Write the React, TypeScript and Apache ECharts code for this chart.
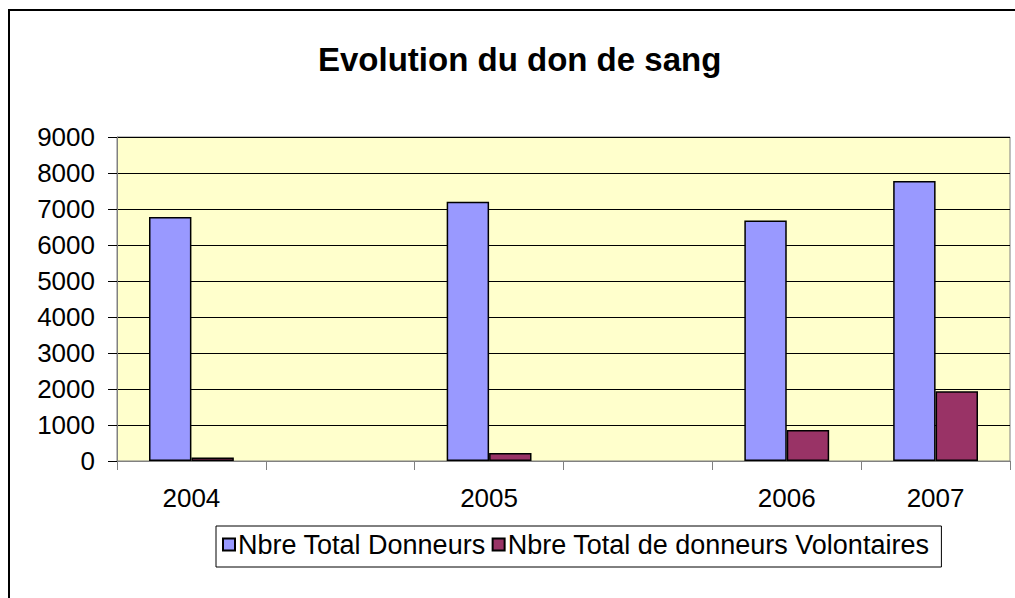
import React, { useEffect, useRef } from "react";
import * as echarts from "echarts";

const categories = ["2004", "", "2005", "", "2006", "2007"];
const totalDonneurs = [6780, null, 7200, null, 6680, 7780];
const donneursVolontaires = [100, null, 220, null, 860, 1940];
const seriesNames = ["Nbre Total Donneurs", "Nbre Total de donneurs Volontaires"];
const yTicks = { min: 0, max: 9000, interval: 1000 };

export default function App() {
  const ref = useRef<HTMLDivElement>(null);
  useEffect(() => {
    if (!ref.current) return;
    const chart = echarts.init(ref.current, null, { renderer: "svg" });
    const font = "'Liberation Sans', Arial, sans-serif";
    chart.setOption({
      animation: false,
      backgroundColor: "#ffffff",
      title: {
        text: "Evolution du don de sang",
        left: 313,
        top: 38,
        textStyle: { fontFamily: font, fontWeight: "bold", fontSize: 33, color: "#000" },
      },
      graphic: [
        {
          type: "rect",
          shape: { x: 9, y: 10, width: 1100, height: 700 },
          style: { fill: "none", stroke: "#000", lineWidth: 2 },
          silent: true,
        },
      ],
      legend: {
        left: 216,
        top: 526,
        orient: "horizontal",
        icon: "rect",
        itemWidth: 12,
        itemHeight: 12,
        itemGap: 6,
        padding: [5, 12, 9, 6],
        borderColor: "#000",
        borderWidth: 1,
        textStyle: { fontFamily: font, fontSize: 27, color: "#000", padding: [0, 0, 0, -2] },
        data: seriesNames,
      },
      grid: {
        left: 117,
        right: 5,
        top: 137,
        bottom: 137,
        show: true,
        backgroundColor: "#FFFFCC",
        borderColor: "#808080",
        borderWidth: 1,
      },
      xAxis: {
        type: "category",
        data: categories,
        axisLine: { show: true, lineStyle: { color: "#808080", width: 1 } },
        axisTick: { show: true, interval: 0, length: 9, lineStyle: { color: "#808080" } },
        axisLabel: {
          interval: 0,
          margin: 24,
          fontFamily: font,
          fontSize: 26,
          color: "#000",
        },
      },
      yAxis: {
        type: "value",
        min: yTicks.min,
        max: yTicks.max,
        interval: yTicks.interval,
        axisLine: { show: true, lineStyle: { color: "#808080", width: 1 } },
        axisTick: { show: true, length: 9, lineStyle: { color: "#000" } },
        axisLabel: {
          margin: 22,
          fontFamily: font,
          fontSize: 26,
          color: "#000",
          formatter: (v: number) => String(v),
        },
        splitLine: { show: true, lineStyle: { color: "#000", width: 1 } },
      },
      series: [
        {
          name: seriesNames[0],
          type: "bar",
          data: totalDonneurs,
          barGap: "0%",
          barCategoryGap: "43%",
          itemStyle: { color: "#9999FF", borderColor: "#000", borderWidth: 1.5 },
        },
        {
          name: seriesNames[1],
          type: "bar",
          data: donneursVolontaires,
          barGap: "0%",
          barCategoryGap: "43%",
          itemStyle: { color: "#993366", borderColor: "#000", borderWidth: 1.5 },
        },
      ],
    });
    return () => chart.dispose();
  }, []);
  return (
    <div
      ref={ref}
      style={{ position: "fixed", left: 0, top: 0, width: 1015, height: 598 }}
    />
  );
}
